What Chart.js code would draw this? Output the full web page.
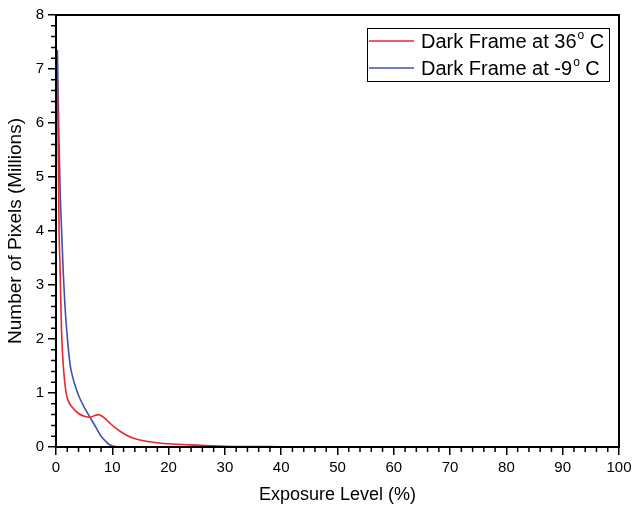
<!DOCTYPE html>
<html>
<head>
<meta charset="utf-8">
<script src="https://cdn.jsdelivr.net/npm/chart.js@4"></script>
<style>
  html, body { margin: 0; padding: 0; background: #fff; }
  #wrap { width: 633px; height: 509px; }
</style>
</head>
<body>
<div id="wrap"><canvas id="chart1" width="633" height="509"></canvas></div>
<script>
// exposure level (%) and pixel counts (millions)
var seriesLabels = ['Dark Frame at 36', 'Dark Frame at -9'];
var warmX = [0.25, 0.4, 0.55, 0.7, 0.85, 1.0, 1.3, 1.8, 2.2, 3, 4, 5, 6, 6.8, 7.5, 8.2, 9, 9.6, 10.5, 12, 13.5, 14.9, 17.9, 20.8, 23.8, 30, 40, 50, 60, 100];
var warmY = [6.8, 5.5, 4.0, 3.4, 2.7, 2.1, 1.5, 1.0, 0.85, 0.72, 0.62, 0.57, 0.55, 0.58, 0.6, 0.57, 0.5, 0.44, 0.36, 0.25, 0.17, 0.13, 0.08, 0.055, 0.04, 0.015, 0.005, 0.002, 0.001, 0];
var coldX = [0.25, 0.5, 0.75, 1.0, 1.3, 1.6, 1.9, 2.5, 3.0, 3.5, 4.1, 5, 6, 7, 8, 8.7, 9.3, 10, 10.5, 11.5, 100];
var coldY = [7.35, 5.8, 4.7, 4.0, 3.2, 2.6, 2.17, 1.53, 1.28, 1.1, 0.93, 0.74, 0.56, 0.38, 0.2, 0.12, 0.06, 0.02, 0.008, 0.002, 0];
var xTicks = [0, 10, 20, 30, 40, 50, 60, 70, 80, 90, 100];
var yTicks = [0, 1, 2, 3, 4, 5, 6, 7, 8];

var red = '#e8262e';
var blue = '#4150b0';
var fontName = '"Liberation Sans", Arial, sans-serif';

function pts(xs, ys) {
	return xs.map(function(x, i) { return { x: x, y: ys[i] }; });
}

// minor ticks, frame and legend box
var extras = {
	id: 'extras',
	afterDraw: function(chart) {
		var c = chart.ctx, a = chart.chartArea;
		var xs = chart.scales.x, ys = chart.scales.y;
		c.save();
		c.strokeStyle = '#000';
		c.lineWidth = 1.5;
		c.beginPath();
		for (var v = 0; v <= 100; v += 2) {
			if (v % 10 === 0) continue;
			var px = xs.getPixelForValue(v);
			c.moveTo(px, a.bottom);
			c.lineTo(px, a.bottom + 5);
		}
		for (var w = 0; w <= 8.001; w += 0.2) {
			if (Math.abs(w - Math.round(w)) < 0.01) continue;
			var py = ys.getPixelForValue(w);
			c.moveTo(a.left, py);
			c.lineTo(a.left - 5, py);
		}
		c.stroke();
		c.lineWidth = 2;
		c.strokeRect(a.left, a.top, a.right - a.left, a.bottom - a.top);

		// legend
		var lx = 367, ly = 28, lw = 242, lh = 53;
		c.fillStyle = '#fff';
		c.fillRect(lx, ly, lw, lh);
		c.lineWidth = 1;
		c.strokeStyle = '#000';
		c.strokeRect(lx + 0.5, ly + 0.5, lw, lh);
		var rows = [ly + 13, ly + 40];
		chart.data.datasets.forEach(function(ds, i) {
			c.strokeStyle = ds.borderColor;
			c.lineWidth = 1.5;
			c.beginPath();
			c.moveTo(lx + 2, rows[i]);
			c.lineTo(lx + 47, rows[i]);
			c.stroke();
			c.fillStyle = '#000';
			c.textBaseline = 'middle';
			c.font = '20px ' + fontName;
			var t = seriesLabels[i];
			var tx = lx + 54;
			c.fillText(t, tx, rows[i] + 1);
			tx += c.measureText(t).width + 1;
			c.font = '12px ' + fontName;
			c.fillText('o', tx, rows[i] - 5);
			tx += c.measureText('o').width;
			c.font = '20px ' + fontName;
			c.fillText(' C', tx, rows[i] + 1);
		});
		c.restore();
	}
};

var ctx = document.getElementById('chart1').getContext('2d');
var chart1 = new Chart(ctx, {
	type: 'scatter',
	data: {
		datasets: [{
			label: seriesLabels[0],
			data: pts(warmX, warmY),
			showLine: true,
			borderColor: red,
			backgroundColor: red,
			borderWidth: 1.6,
			pointRadius: 0,
			cubicInterpolationMode: 'monotone'
		}, {
			label: seriesLabels[1],
			data: pts(coldX, coldY),
			showLine: true,
			borderColor: blue,
			backgroundColor: blue,
			borderWidth: 1.6,
			pointRadius: 0,
			cubicInterpolationMode: 'monotone'
		}]
	},
	options: {
		responsive: false,
		animation: false,
		layout: { padding: { left: 0, top: 15, right: 14, bottom: 0 } },
		plugins: {
			legend: { display: false },
			tooltip: { enabled: false }
		},
		scales: {
			x: {
				type: 'linear',
				min: 0,
				max: 100,
				afterBuildTicks: function(s) { s.ticks = xTicks.map(function(v) { return { value: v }; }); },
				afterFit: function(s) { s.height = 62; s.paddingLeft = 0; s.paddingRight = 0; },
				border: { color: '#000', width: 2 },
				grid: { drawOnChartArea: false, color: '#000', lineWidth: 1.5, tickLength: 8 },
				ticks: { color: '#000', font: { family: fontName, size: 15 }, padding: 4, maxRotation: 0 },
				title: { display: true, text: 'Exposure Level (%)', color: '#000', font: { family: fontName, size: 18 }, padding: { top: 6, bottom: 3 } }
			},
			y: {
				type: 'linear',
				min: 0,
				max: 8,
				afterBuildTicks: function(s) { s.ticks = yTicks.map(function(v) { return { value: v }; }); },
				afterFit: function(s) { s.width = 56; s.paddingTop = 0; s.paddingBottom = 0; },
				border: { color: '#000', width: 2 },
				grid: { drawOnChartArea: false, color: '#000', lineWidth: 1.5, tickLength: 8 },
				ticks: { color: '#000', font: { family: fontName, size: 15 }, padding: 4 },
				title: { display: true, text: 'Number of Pixels (Millions)', color: '#000', font: { family: fontName, size: 19 }, padding: { top: 4, bottom: 0 } }
			}
		}
	},
	plugins: [extras]
});
</script>
</body>
</html>
